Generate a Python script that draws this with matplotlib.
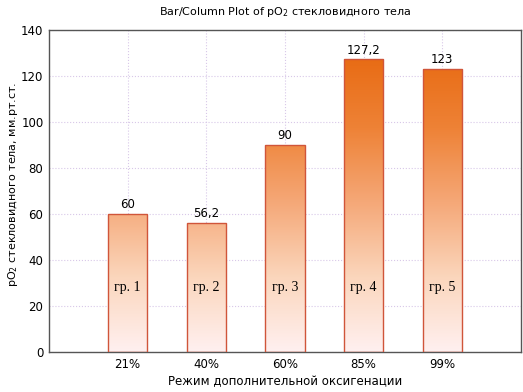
import numpy as np
import matplotlib.pyplot as plt
from matplotlib.colors import LinearSegmentedColormap
from matplotlib.patches import Rectangle

# Dane
categories = ['21%', '40%', '60%', '85%', '99%']
values = [60, 56.2, 90, 127.2, 123]
value_labels = ['60', '56,2', '90', '127,2', '123']
group_labels = ['гр. 1', 'гр. 2', 'гр. 3', 'гр. 4', 'гр. 5']

fig = plt.figure(figsize=(5.23, 3.92), dpi=100)
ax = fig.add_axes([49 / 523, 40 / 392, 472 / 523, 322 / 392])

x = np.arange(1, len(values) + 1)
width = 0.5

# gradient od jasnego (dół) do ciemnego pomarańczowego (góra)
cmap = LinearSegmentedColormap.from_list(
    'grad', ['#fff0f0', '#fbd6bc', '#f5a878', '#ee8236', '#e86a12'])
grad = np.linspace(0, 1, 256).reshape(-1, 1)

bars = ax.bar(x, values, width=width, facecolor='none', edgecolor='#d0553a',
              linewidth=1.0, zorder=3)
for b in bars:
    im = ax.imshow(grad, extent=[0, 6, 0, 130], origin='lower', cmap=cmap,
                   aspect='auto', zorder=2)
    clip = Rectangle((b.get_x(), 0), b.get_width(), b.get_height(),
                     transform=ax.transData)
    im.set_clip_path(clip)

for xi, v, lab, g in zip(x, values, value_labels, group_labels):
    ax.text(xi, v + 1.2, lab, ha='center', va='bottom', fontsize=8.5)
    ax.text(xi, 28, g, ha='center', va='center', fontsize=10,
            family='Liberation Serif')

ax.set_xlim(0, 6)
ax.set_ylim(0, 140)
ax.set_xticks(x)
ax.set_xticklabels(categories, fontsize=8.5)
ax.set_yticks(np.arange(0, 141, 20))
ax.tick_params(axis='y', labelsize=8.5, length=0, pad=4)
ax.tick_params(axis='x', length=0, pad=4)
ax.grid(True, linestyle=':', color='#d8c8e8', linewidth=0.8, zorder=0)
ax.set_axisbelow(True)

for s in ax.spines.values():
    s.set_color('#555555')
    s.set_linewidth(1.0)

ax.set_title('Bar/Column Plot of pO$_2$ стекловидного тела', fontsize=8, pad=11)
ax.set_xlabel('Режим дополнительной оксигенации', fontsize=8.5, labelpad=3)
ax.set_ylabel('pO$_2$ стекловидного тела, мм.рт.ст.', fontsize=8)
ax.yaxis.set_label_coords(-0.062, 0.52)

fig.savefig('out.png', dpi=100)
